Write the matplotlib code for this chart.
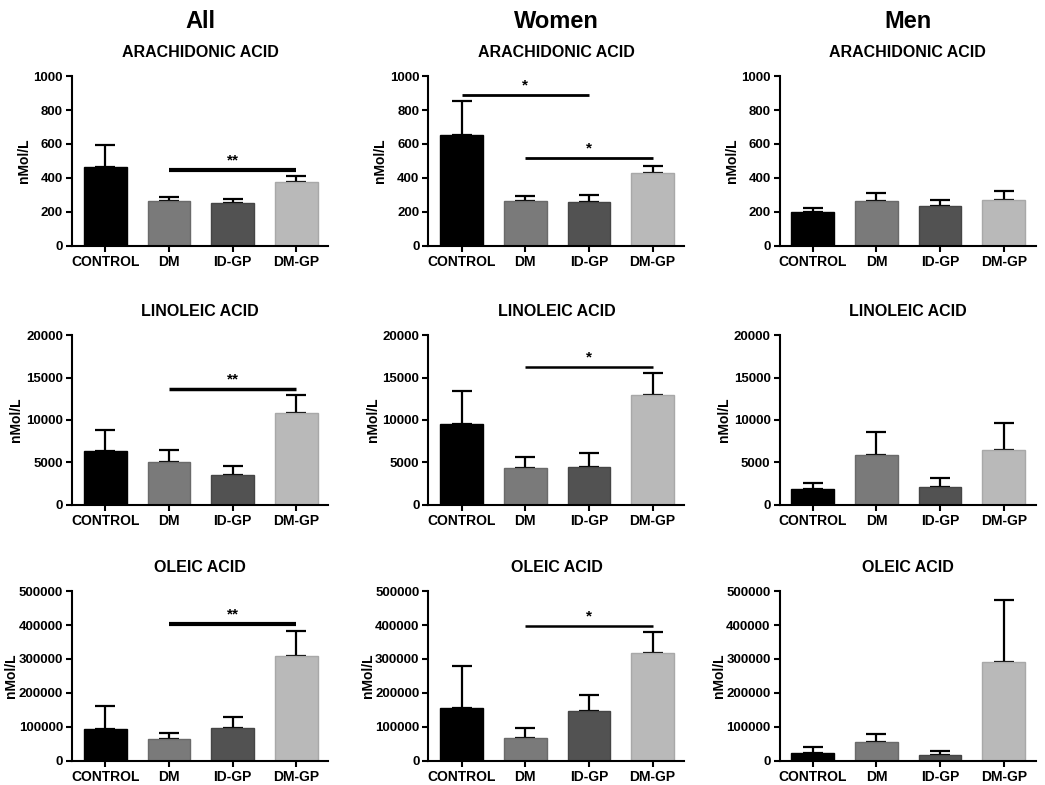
import numpy as np
import matplotlib.pyplot as plt

plt.rcParams['font.family'] = ['Liberation Sans', 'DejaVu Sans']
plt.rcParams['font.weight'] = 'bold'

groups = ["CONTROL", "DM", "ID-GP", "DM-GP"]
colors = ["#000000", "#7a7a7a", "#525252", "#b9b9b9"]
edges = ["#000000", "#6a6a6a", "#454545", "#a8a8a8"]
col_titles = ["All", "Women", "Men"]
acids = ["ARACHIDONIC ACID", "LINOLEIC ACID", "OLEIC ACID"]
ymax = [1000, 20000, 500000]
ystep = [200, 5000, 100000]

# mean values (bar heights) and top of the error bar, [acid][cohort]
arach_mean = [[465, 262, 250, 373], [655, 265, 258, 430], [198, 262, 232, 270]]
arach_top = [[595, 290, 273, 413], [852, 292, 298, 473], [220, 308, 272, 320]]
lino_mean = [[6300, 5000, 3550, 10800], [9500, 4300, 4500, 13000], [1800, 5900, 2100, 6400]]
lino_top = [[8800, 6500, 4600, 12900], [13400, 5600, 6100, 15500], [2600, 8600, 3200, 9600]]
ole_mean = [[93000, 63000, 95000, 310000], [155000, 68000, 145000, 318000], [22000, 56000, 16000, 292000]]
ole_top = [[160000, 82000, 130000, 383000], [278000, 97000, 195000, 380000], [40000, 80000, 29000, 473000]]

means = [arach_mean, lino_mean, ole_mean]
tops = [arach_top, lino_top, ole_top]

# significance brackets: (acid, cohort, from, to, y, label, linewidth)
sig = [
    (0, 0, 1, 3, 445, "**", 3.0),
    (0, 1, 0, 2, 890, "*", 2.0),
    (0, 1, 1, 3, 520, "*", 2.0),
    (1, 0, 1, 3, 13700, "**", 2.5),
    (1, 1, 1, 3, 16300, "*", 1.8),
    (2, 0, 1, 3, 403000, "**", 3.0),
    (2, 1, 1, 3, 397000, "*", 1.8),
]

fig = plt.figure(figsize=(10.45, 7.85), dpi=100)

lefts = [0.069, 0.410, 0.746]
bottoms = [0.687, 0.357, 0.031]
w, h = 0.245, 0.216
label_x = [-0.16, -0.19, -0.21]

axes = {}
for r in range(3):
    for c in range(3):
        ax = fig.add_axes([lefts[c], bottoms[r], w, h])
        axes[(r, c)] = ax
        x = np.arange(len(groups))
        m = np.array(means[r][c])
        t = np.array(tops[r][c])
        ax.bar(x, m, width=0.67, color=colors, edgecolor=edges, linewidth=1, zorder=2)
        ax.errorbar(x, m, yerr=[np.zeros_like(m), t - m], fmt="none",
                    ecolor="black", elinewidth=1.6, capsize=7, capthick=1.6, zorder=1)
        ax.set_xlim(-0.52, 3.5)
        ax.set_ylim(0, ymax[r])
        ax.set_yticks(np.arange(0, ymax[r] + 1, ystep[r]))
        ax.set_xticks(x)
        ax.set_xticklabels(groups)
        ax.tick_params(labelsize=9.5, width=1.5, length=4, pad=2.5)
        ax.tick_params(axis="x", labelsize=10)
        for s in ["top", "right"]:
            ax.spines[s].set_visible(False)
        for s in ["left", "bottom"]:
            ax.spines[s].set_linewidth(1.5)
        ax.set_ylabel("nMol/L", fontsize=10, fontweight="bold")
        ax.yaxis.set_label_coords(label_x[r], 0.5)
        ax.set_title(acids[r], fontsize=11.5, fontweight="bold", pad=14)
        for lab in ax.get_xticklabels() + ax.get_yticklabels():
            lab.set_fontweight("bold")

for (r, c, a, b, y, lab, lw) in sig:
    ax = axes[(r, c)]
    ax.plot([a, b], [y, y], color="black", lw=lw, solid_capstyle="butt")
    ax.text((a + b) / 2, y + ymax[r] * 0.015, lab, ha="center", va="bottom",
            fontsize=11, fontweight="bold")

for c in range(3):
    x0 = lefts[c] + w * 0.5
    fig.text(x0, 0.972, col_titles[c], ha="center", va="center", fontsize=17, fontweight="bold")

fig.savefig("out.png", dpi=100, facecolor="white")
